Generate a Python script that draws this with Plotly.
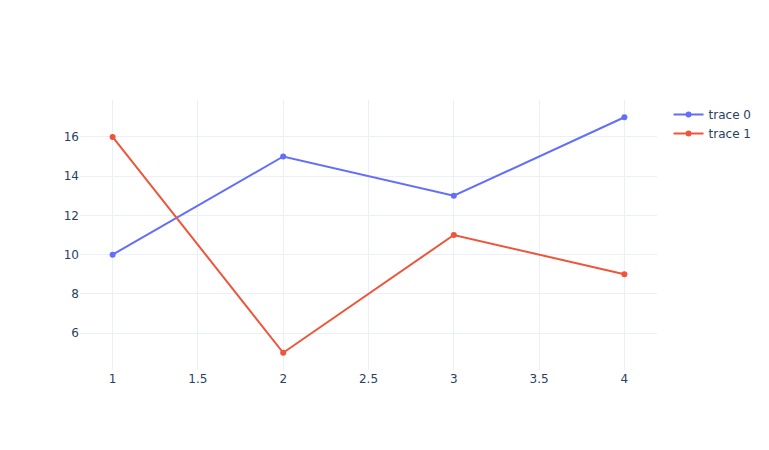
import plotly.graph_objects as go

x = [1, 2, 3, 4]
trace0 = [10, 15, 13, 17]
trace1 = [16, 5, 11, 9]

fig = go.Figure()
fig.add_trace(go.Scatter(x=x, y=trace0, mode="lines+markers", name="trace 0"))
fig.add_trace(go.Scatter(x=x, y=trace1, mode="lines+markers", name="trace 1"))
fig.update_layout(width=769, height=450, template="plotly_white",
                  font=dict(family="DejaVu Sans"))
fig.write_html("out.html")
